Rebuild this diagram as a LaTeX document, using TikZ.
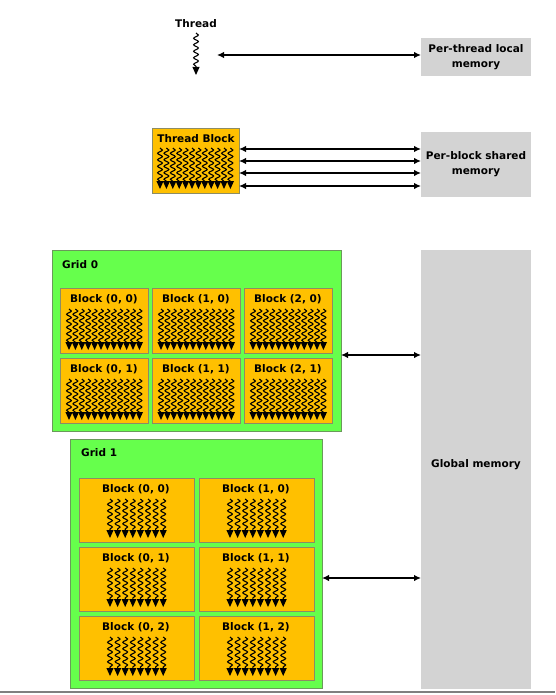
\documentclass[tikz,border=0pt]{standalone}
\usepackage{fontspec}
\setmainfont{DejaVu Sans}
\usetikzlibrary{decorations.pathmorphing,arrows.meta}
\definecolor{orangec}{HTML}{FFC000}
\definecolor{blkborder}{HTML}{8C8C64}
\definecolor{greenc}{HTML}{66FF4C}
\definecolor{gridborder}{HTML}{6A9A5A}
\definecolor{memgray}{HTML}{D3D3D3}
\tikzset{
  box/.style={anchor=north west, inner sep=0pt, outer sep=0pt},
  blk/.style={box, draw=blkborder, fill=orangec, line width=1pt},
  gridbox/.style={box, draw=gridborder, fill=greenc, line width=1pt},
  mem/.style={box, fill=memgray},
  lbl/.style={font=\fontsize{10.5}{15}\selectfont\bfseries, inner sep=0pt, align=center},
  conn/.style={line width=1.4pt, {Latex[length=7pt,width=6.5pt]}-{Latex[length=7pt,width=6.5pt]}},
  wave/.style={decorate, decoration={snake, segment length=6.5pt, amplitude=2.4pt}, line width=1.1pt}
}
% one thread: x, ytop, ybottom
\newcommand\thr[3]{%
  \draw[wave] (#1,#2) -- (#1,#3-6);
  \fill (#1-3.6,#3-8) -- (#1+3.6,#3-8) -- (#1,#3) -- cycle;}
% row of threads: xstart, ytop, count-1, dx, ybottom
\newcommand\threadrow[5]{%
  \foreach \i in {0,...,#3}{\pgfmathsetmacro\xx{#1+\i*#4}\thr{\xx}{#2}{#5}}}
\begin{document}
\begin{tikzpicture}[x=1pt,y=-1pt]
\useasboundingbox (0,0) rectangle (555,695);
% Thread
\node[lbl] (thread) at (196,24) {Thread};
\thr{196}{33}{75}
\coordinate (thr) at (217,55);
% memory boxes
\node[mem, minimum width=110pt, minimum height=38pt] (local) at (421,38) {};
\node[lbl] at (local.center) {Per-thread local\\memory};
\node[mem, minimum width=110pt, minimum height=65pt] (shared) at (421,132) {};
\node[lbl] at (shared.center) {Per-block shared\\memory};
\node[mem, minimum width=110pt, minimum height=439pt] (global) at (421,250) {};
\node[lbl] at (476,465) {Global memory};
\draw[conn] (thr) -- (local.west |- thr);
% Thread block
\node[blk, minimum width=87pt, minimum height=64pt] (tb) at (152,129) {};
\node[lbl] at (196,139) {Thread Block};
\threadrow{160}{148}{11}{6.4}{189}
\foreach \yy in {149,161,173,186}{
  \draw[conn] (tb.east |- 0,\yy) -- (shared.west |- 0,\yy);}
% Grid 0
\node[gridbox, minimum width=289pt, minimum height=181pt] (g0) at (52,250) {};
\node[lbl, anchor=west] at (62,265) {Grid 0};
\foreach \c/\xl in {0/60,1/152,2/244}{
  \foreach \r/\yt in {0/288,1/358}{
    \node[blk, minimum width=88pt, minimum height=65pt] (g0b\c\r) at (\xl,\yt) {};
    \node[lbl] at (\xl+44,\yt+11) {Block (\c, \r)};
    \threadrow{\xl+9}{\yt+21}{11}{6.4}{\yt+62}
  }}
\draw[conn] (g0.east |- 0,355) -- (global.west |- 0,355);
% Grid 1
\node[gridbox, minimum width=252pt, minimum height=249pt] (g1) at (70,439) {};
\node[lbl, anchor=west] at (81,453) {Grid 1};
\foreach \c/\xl in {0/79,1/199}{
  \foreach \r/\yt in {0/478,1/547,2/616}{
    \node[blk, minimum width=115pt, minimum height=64pt] (g1b\c\r) at (\xl,\yt) {};
    \node[lbl] at (\xl+57,\yt+11) {Block (\c, \r)};
    \threadrow{\xl+31}{\yt+21}{7}{7.6}{\yt+60}
  }}
\draw[conn] (g1.east |- 0,578) -- (global.west |- 0,578);
% bottom rule
\coordinate (bl) at (0,692);
\coordinate (br) at (555,692);
\draw[gray, line width=2pt] (bl) -- (br);
\end{tikzpicture}
\end{document}
